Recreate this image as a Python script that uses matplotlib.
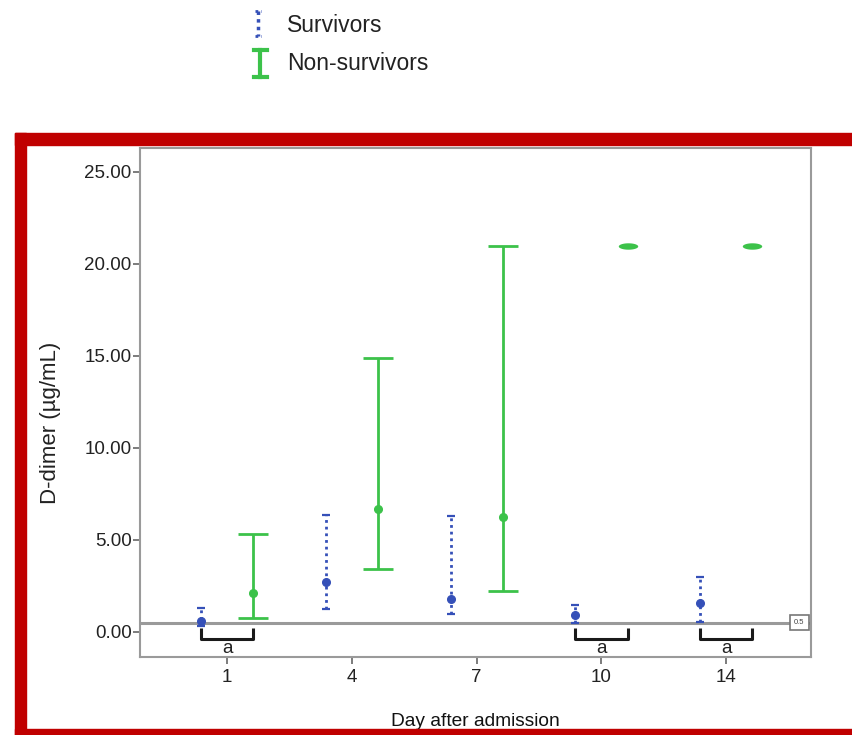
import matplotlib
matplotlib.use("Agg")
import matplotlib.pyplot as plt
import numpy as np
from matplotlib.lines import Line2D
from matplotlib.patches import Rectangle

plt.rcParams["font.family"] = ["Liberation Sans", "DejaVu Sans"]

days = ["1", "4", "7", "10", "14"]

# median and range (ug/mL)
surv_median = [0.6, 2.7, 1.8, 0.9, 1.6]
surv_low = [0.3, 1.25, 1.0, 0.5, 0.55]
surv_high = [1.3, 6.35, 6.3, 1.45, 3.0]

nonsurv_median = [2.1, 6.7, 6.25, 21.0, 21.0]
nonsurv_low = [0.75, 3.4, 2.2, 21.0, 21.0]
nonsurv_high = [5.3, 14.9, 21.0, 21.0, 21.0]

# days where survivors vs non-survivors differ
sig_days = ["1", "10", "14"]
sig_label = "a"
ref_value = 0.5

blue = "#3550b8"
green = "#3cc24a"
grey = "#9a9a9a"

W, H = 853, 735
fig = plt.figure(figsize=(W / 100, H / 100), dpi=100)
ax = fig.add_axes([140 / W, 1 - 657 / H, 671 / W, 509 / H])


def fig_xy(px, py):
    return px / W, 1 - py / H


x = np.arange(len(days))
off = 0.21

surv_med = np.array(surv_median)
s_err = [surv_med - np.array(surv_low), np.array(surv_high) - surv_med]
surv = ax.errorbar(x - off, surv_med, yerr=s_err, fmt="o", color=blue,
                   ms=5.5, capsize=3, capthick=1.6, elinewidth=2, zorder=3)
surv[2][0].set_linestyle((0, (1, 1.4)))

ns_med = np.array(nonsurv_median)
ns_lo = np.array(nonsurv_low)
ns_hi = np.array(nonsurv_high)
spread = ns_hi > ns_lo
ax.errorbar(x[spread] + off, ns_med[spread],
            yerr=[ns_med[spread] - ns_lo[spread], ns_hi[spread] - ns_med[spread]],
            fmt="o", color=green, ms=5.5, capsize=11, capthick=2,
            elinewidth=2, zorder=3)
# flat ranges collapse to a small dash
t = np.linspace(0, 2 * np.pi, 40)
dash = np.column_stack([np.cos(t), 0.33 * np.sin(t)])
ax.plot(x[~spread] + off, ns_med[~spread], marker=dash, ls="none", color=green,
        ms=14, mew=0, zorder=3)

# reference line with its value box
ax.axhline(ref_value, color=grey, lw=2.2, zorder=2)
ax.text(4.585, ref_value, "0.5", fontsize=5.5, ha="center", va="center",
        color="#444444", zorder=4,
        bbox=dict(boxstyle="square,pad=0.55", fc="white", ec="#777777", lw=1.2))

# significance brackets
for d in sig_days:
    i = days.index(d)
    ax.plot([i - off, i - off, i + off, i + off], [0.22, -0.38, -0.38, 0.22],
            color="#1a1a1a", lw=2.2, zorder=3, solid_capstyle="butt")
    ax.text(i, -0.45, sig_label, ha="center", va="top", fontsize=13.5, color="#222222")

ax.set_xlim(-0.70, 4.68)
ax.set_ylim(-1.36, 26.3)
ax.set_xticks(x)
ax.set_xticklabels(days)
ax.set_yticks([0, 5, 10, 15, 20, 25])
ax.set_yticklabels([f"{v:.2f}" for v in [0, 5, 10, 15, 20, 25]])
for s in ax.spines.values():
    s.set_color(grey)
    s.set_linewidth(1.5)
ax.tick_params(axis="both", colors="#666666", length=5, width=1.2, labelsize=13.5,
               labelcolor="#222222")
ax.tick_params(axis="x", pad=4)
ax.tick_params(axis="y", pad=1)
ax.set_ylabel("D-dimer (µg/mL)", fontsize=16, color="#222222")
ax.yaxis.set_label_coords(-0.118, 0.46)
ax.set_xlabel("Day after admission", fontsize=13.8, color="#111111", labelpad=19)

# legend drawn by hand: small dotted bar and green I-beam
fig.add_artist(Line2D(*zip(fig_xy(258, 11), fig_xy(258, 36)), color=blue, lw=2.5,
                      ls=(0, (1, 1.2)), transform=fig.transFigure))
for cy in (11, 36):
    fig.add_artist(Line2D(*zip(fig_xy(255, cy), fig_xy(261, cy)), color=blue, lw=2,
                          ls=(0, (1, 1)), transform=fig.transFigure))
fig.add_artist(Line2D(*zip(fig_xy(260, 50), fig_xy(260, 77)), color=green, lw=3,
                      transform=fig.transFigure))
for cy in (50, 77):
    fig.add_artist(Line2D(*zip(fig_xy(254, cy), fig_xy(267, cy)), color=green, lw=3,
                          transform=fig.transFigure))
fig.text(*fig_xy(287, 25), "Survivors", fontsize=16.5, va="center", color="#222222")
fig.text(*fig_xy(287, 63), "Non-survivors", fontsize=16.5, va="center", color="#222222")

# red frame round the chart
red = "#c00000"
fig.add_artist(Rectangle((15 / W, 0), 11 / W, 1 - 133 / H, transform=fig.transFigure,
                         color=red, zorder=10))
fig.add_artist(Rectangle((15 / W, 1 - 145 / H), 1, 12 / H, transform=fig.transFigure,
                         color=red, zorder=10))
fig.add_artist(Rectangle((15 / W, 0), 1, 6 / H, transform=fig.transFigure,
                         color=red, zorder=10))

fig.savefig("out.png", dpi=100)
